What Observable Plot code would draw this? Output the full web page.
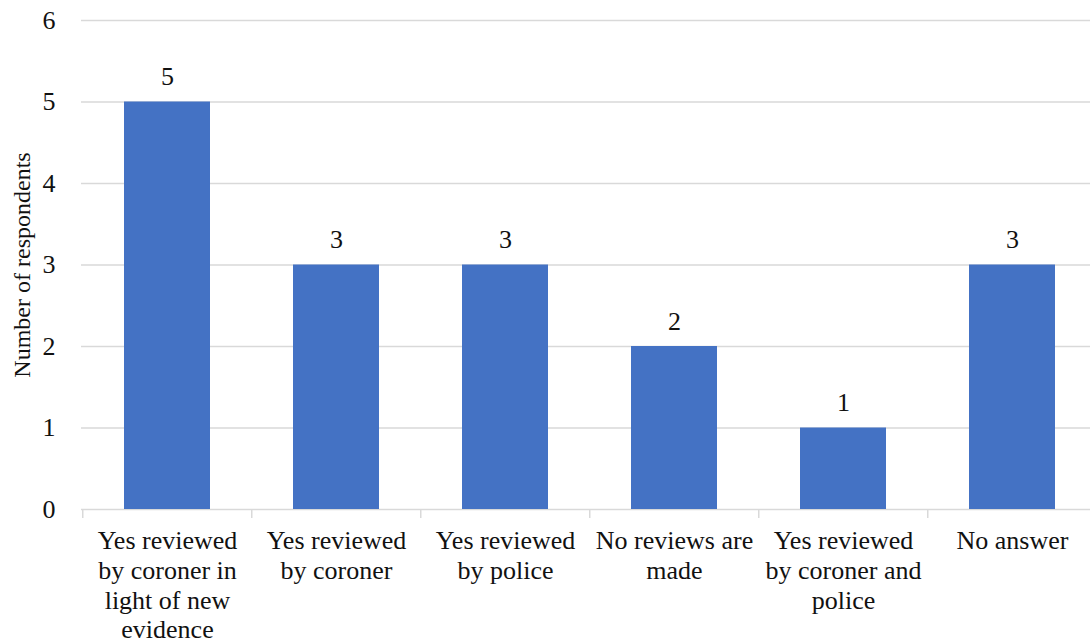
<!DOCTYPE html>
<html>
<head>
<meta charset="utf-8">
<script src="https://cdn.jsdelivr.net/npm/d3@7"></script>
<script src="https://cdn.jsdelivr.net/npm/@observablehq/plot@0.6"></script>
</head>
<body style="margin:0;padding:0;background:#fff;font-family:serif">
<div id="chart"></div>
<script>
// Survey answers: is a death review re-opened, and by whom?
const categories = [
  "Yes reviewed\nby coroner in\nlight of new\nevidence",
  "Yes reviewed\nby coroner",
  "Yes reviewed\nby police",
  "No reviews are\nmade",
  "Yes reviewed\nby coroner and\npolice",
  "No answer"
];
const respondents = [5, 3, 3, 2, 1, 3];
const yTicks = [0, 1, 2, 3, 4, 5, 6];
const yTitle = "Number of respondents";

const data = categories.map((category, i) => ({category, value: respondents[i]}));

const width = 1090, height = 644;
const marginLeft = 81, marginRight = -8;
const step = (width - marginLeft - marginRight) / categories.length;
const font = "serif";
const ink = "#111";

const chart = Plot.plot({
  width, height,
  marginLeft, marginRight,
  marginTop: 20, marginBottom: 135,
  x: {domain: categories, paddingInner: 0.49, paddingOuter: 0.245, axis: null},
  y: {domain: [0, 6], axis: null},
  marks: [
    // horizontal gridlines (the one at 0 doubles as the baseline)
    Plot.ruleY(yTicks, {stroke: "#d9d9d9", strokeWidth: 1.5}),
    Plot.barY(data, {x: "category", y: "value", fill: "#4472C4"}),
    // category separators below the baseline
    Plot.axisX({anchor: "bottom", tickSize: 9, tickFormat: () => "", dx: -step / 2,
                stroke: "#d9d9d9", strokeWidth: 1.5, label: null}),
    // wrapped category names
    Plot.axisX({anchor: "bottom", tickSize: 0, tickPadding: 18, lineHeight: 1.15,
                fontSize: 26, fontFamily: font, fill: ink, label: null}),
    Plot.axisY({anchor: "left", ticks: yTicks, tickFormat: d3.format("d"), tickSize: 0,
                tickPadding: 26, fontSize: 26, fontFamily: font, fill: ink, label: null}),
    // value labels above bars
    Plot.text(data, {x: "category", y: "value", text: d => String(d.value),
                     lineAnchor: "bottom", dy: -17, fontSize: 26, fontFamily: font, fill: ink}),
    Plot.text([yTitle], {frameAnchor: "left", textAnchor: "middle", rotate: -90,
                         dx: -59, fontSize: 24, fontFamily: font, fill: ink})
  ]
});

chart.setAttribute("font-family", font);
document.getElementById("chart").appendChild(chart);
</script>
</body>
</html>
